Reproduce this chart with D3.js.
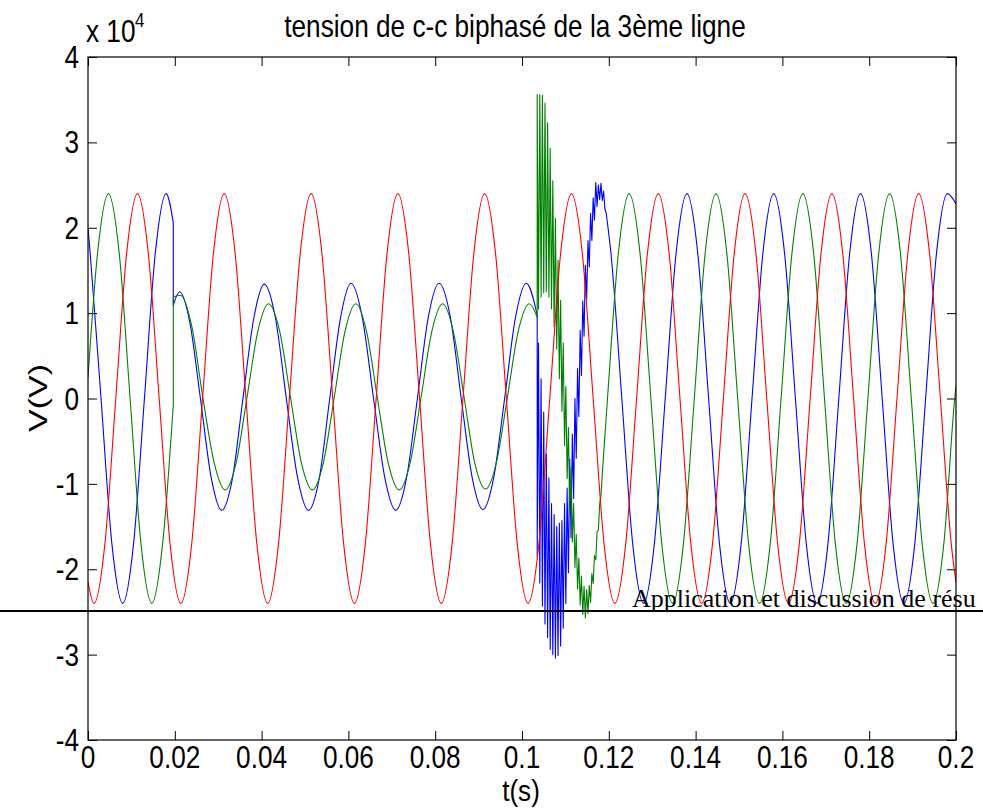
<!DOCTYPE html>
<html>
<head>
<meta charset="utf-8">
<script src="https://cdn.jsdelivr.net/npm/d3@7"></script>
<style>
  html, body { margin: 0; padding: 0; background: #fff; }
  svg { display: block; }
</style>
</head>
<body>
<svg id="chart" width="983" height="809"></svg>
<script>
// ---------------- DATA ----------------
const titleText = "tension de c-c biphasé de la 3ème ligne";
const xLabelText = "t(s)";
const yLabelText = "V(V)";
const overlayText = "Application et discussion de résu";

const xTicks = [0, 0.02, 0.04, 0.06, 0.08, 0.1, 0.12, 0.14, 0.16, 0.18, 0.2];
const xTickLabels = ["0", "0.02", "0.04", "0.06", "0.08", "0.1", "0.12", "0.14", "0.16", "0.18", "0.2"];
const yTicks = [-40000, -30000, -20000, -10000, 0, 10000, 20000, 30000, 40000];
const yTickLabels = ["-4", "-3", "-2", "-1", "0", "1", "2", "3", "4"];

// red phase (unaffected by the fault): times (s) and voltages (V)
const redT = [0,
  0.0014, 0.0039, 0.0064, 0.0089, 0.0114, 0.0139, 0.0164, 0.0189,
  0.0214, 0.0239, 0.0264, 0.0289, 0.0314, 0.0339, 0.0364, 0.0389,
  0.0414, 0.0439, 0.0464, 0.0489, 0.0514, 0.0539, 0.0564, 0.0589,
  0.0614, 0.0639, 0.0664, 0.0689, 0.0714, 0.0739, 0.0764, 0.0789,
  0.0814, 0.0839, 0.0864, 0.0889, 0.0914, 0.0939, 0.0964, 0.0989,
  0.1014, 0.1039, 0.1064, 0.1089, 0.1114, 0.1139, 0.1164, 0.1189,
  0.1214, 0.1239, 0.1264, 0.1289, 0.1314, 0.1339, 0.1364, 0.1389,
  0.1414, 0.1439, 0.1464, 0.1489, 0.1514, 0.1539, 0.1564, 0.1589,
  0.1614, 0.1639, 0.1664, 0.1689, 0.1714, 0.1739, 0.1764, 0.1789,
  0.1814, 0.1839, 0.1864, 0.1889, 0.1914, 0.1939, 0.1964, 0.1989,
  0.2];
const redV = [-21500,
  -24000, -17000, 0, 17000, 24000, 17000, 0, -17000,
  -24000, -17000, 0, 17000, 24000, 17000, 0, -17000,
  -24000, -17000, 0, 17000, 24000, 17000, 0, -17000,
  -24000, -17000, 0, 17000, 24000, 17000, 0, -17000,
  -24000, -17000, 0, 17000, 24000, 17000, 0, -17000,
  -24000, -17000, 0, 17000, 24000, 17000, 0, -17000,
  -24000, -17000, 0, 17000, 24000, 17000, 0, -17000,
  -24000, -17000, 0, 17000, 24000, 17000, 0, -17000,
  -24000, -17000, 0, 17000, 24000, 17000, 0, -17000,
  -24000, -17000, 0, 17000, 24000, 17000, 0, -17000,
  -21500];

// blue phase  [t (s), V]
const bluePre = [[0, 20000], [0.0005, 17000], [0.0030, 0], [0.0055, -17000], [0.0080, -24000], [0.0105, -17000],
  [0.0130, 0], [0.0155, 17000], [0.0180, 24000], [0.01965, 20600]];
const blueFault = [[0.01965, 10900], [0.0211, 12500], [0.0235, 8800], [0.0259, 0], [0.0284, -9300], [0.0308, -13100],
  [0.0333, -9300], [0.0357, 0], [0.0382, 9400], [0.0406, 13400], [0.0432, 9400], [0.0457, 0], [0.0483, -9300],
  [0.0508, -13100], [0.0533, -9300], [0.0557, 0], [0.0582, 9500], [0.0606, 13500], [0.0632, 9500], [0.0658, 0],
  [0.0684, -9300], [0.0709, -13100], [0.0734, -9300], [0.0759, 0], [0.0784, 9500], [0.0809, 13500], [0.0835, 9500],
  [0.0860, 0], [0.0885, -9200], [0.0910, -13000], [0.0935, -9200], [0.0960, 0], [0.0985, 9500], [0.1010, 13500],
  [0.1035, 9800]];
const blueTransient = [[0.1035, -18500], [0.1038, 6500], [0.1041, -21600], [0.1044, 2300], [0.1047, -24300],
  [0.1050, -1600], [0.1053, -26400], [0.1056, -6500], [0.1059, -28000], [0.1062, -9300], [0.1065, -29400],
  [0.1068, -12300], [0.1071, -30000], [0.1074, -13600], [0.1077, -30400], [0.1080, -15000], [0.1083, -30100],
  [0.1086, -14600], [0.1089, -29000], [0.1092, -14300], [0.1095, -26900], [0.1098, -12300], [0.1101, -24000],
  [0.1104, -10500], [0.1107, -20400], [0.1110, -7100], [0.1113, -16300], [0.1116, -4200], [0.1119, -11700],
  [0.1122, 0], [0.1125, -7000], [0.1128, 3500], [0.1131, -2100], [0.1134, 8000], [0.1137, 2700],
  [0.1140, 11400], [0.1143, 7300], [0.1146, 15600], [0.1149, 11600], [0.1152, 18500], [0.1155, 15400],
  [0.1158, 21700], [0.1161, 18500], [0.1164, 23500], [0.1167, 20900], [0.1170, 25300], [0.1173, 22500],
  [0.1176, 25000], [0.1179, 23300], [0.1182, 25200], [0.1185, 23200], [0.1188, 24300], [0.1191, 22200],
  [0.1194, 21700]];
const bluePost = [[0.1194, 21700], [0.1205, 17000], [0.1230, 0], [0.1255, -17000], [0.1280, -24000], [0.1305, -17000],
  [0.1330, 0], [0.1355, 17000], [0.1380, 24000], [0.1405, 17000], [0.1430, 0], [0.1455, -17000], [0.1480, -24000],
  [0.1505, -17000], [0.1530, 0], [0.1555, 17000], [0.1580, 24000], [0.1605, 17000], [0.1630, 0], [0.1655, -17000],
  [0.1680, -24000], [0.1705, -17000], [0.1730, 0], [0.1755, 17000], [0.1780, 24000], [0.1805, 17000], [0.1830, 0],
  [0.1855, -17000], [0.1880, -24000], [0.1905, -17000], [0.1930, 0], [0.1955, 17000], [0.1980, 24000],
  [0.2000, 22800]];

// green phase  [t (s), V]
const greenPre = [[0, 2500], [0.0022, 17000], [0.0047, 24000], [0.0072, 17000], [0.0097, 0], [0.0122, -17000],
  [0.0147, -24000], [0.0172, -17000], [0.01965, -800]];
const greenFault = [[0.01965, 11900], [0.0213, 12100], [0.0239, 8500], [0.0265, 0], [0.0291, -7600], [0.0316, -10700],
  [0.0341, -7600], [0.0366, 0], [0.0391, 7800], [0.0416, 11100], [0.0442, 7800], [0.0467, 0], [0.0492, -7600],
  [0.0517, -10700], [0.0542, -7600], [0.0567, 0], [0.0592, 7800], [0.0617, 11100], [0.0642, 7800], [0.0667, 0],
  [0.0692, -7600], [0.0717, -10700], [0.0742, -7600], [0.0767, 0], [0.0792, 7800], [0.0817, 11100], [0.0842, 7800],
  [0.0867, 0], [0.0891, -7500], [0.0916, -10600], [0.0941, -7500], [0.0966, 0], [0.0991, 7800], [0.1017, 11100],
  [0.1035, 9500]];
const greenTransient = [[0.1035, 35600], [0.1038, 10500], [0.1041, 35600], [0.1044, 11900], [0.1047, 35500],
  [0.1050, 12400], [0.1053, 34600], [0.1056, 12500], [0.1059, 32300], [0.1062, 11900], [0.1065, 29300],
  [0.1068, 10500], [0.1071, 25500], [0.1074, 8400], [0.1077, 21100], [0.1080, 5800], [0.1083, 16200],
  [0.1086, 2300], [0.1089, 11500], [0.1092, -1500], [0.1095, 6500], [0.1098, -5500], [0.1101, 1400],
  [0.1104, -9400], [0.1107, -3400], [0.1110, -13200], [0.1113, -8100], [0.1116, -16800], [0.1119, -12300],
  [0.1122, -19800], [0.1125, -15900], [0.1128, -22300], [0.1131, -18700], [0.1134, -24200], [0.1137, -20800],
  [0.1140, -25300], [0.1143, -22000], [0.1146, -25700], [0.1149, -22400], [0.1152, -25200], [0.1155, -21900],
  [0.1158, -23900], [0.1161, -20500], [0.1164, -21700], [0.1167, -18400], [0.1170, -18900], [0.1173, -15600],
  [0.1176, -15400], [0.1179, -12300], [0.1182, -11400], [0.1185, -8800]];
const greenPost = [[0.1185, -8800], [0.1197, 0], [0.1222, 17000], [0.1247, 24000], [0.1272, 17000], [0.1297, 0],
  [0.1322, -17000], [0.1347, -24000], [0.1372, -17000], [0.1397, 0], [0.1422, 17000], [0.1447, 24000],
  [0.1472, 17000], [0.1497, 0], [0.1522, -17000], [0.1547, -24000], [0.1572, -17000], [0.1597, 0], [0.1622, 17000],
  [0.1647, 24000], [0.1672, 17000], [0.1697, 0], [0.1722, -17000], [0.1747, -24000], [0.1772, -17000], [0.1797, 0],
  [0.1822, 17000], [0.1847, 24000], [0.1872, 17000], [0.1897, 0], [0.1922, -17000], [0.1947, -24000],
  [0.1972, -17000], [0.1997, 0], [0.2, 1500]];

// ---------------- DRAWING ----------------
const svg = d3.select("#chart");
const L = 88, R = 956, T = 57, B = 740;
const x = d3.scaleLinear().domain([0, 0.2]).range([L, R]);
const y = d3.scaleLinear().domain([-40000, 40000]).range([B, T]);
const FONT = "'Liberation Sans', Arial, Helvetica, sans-serif";
const FS = 31;      // axis text size
const SX = 0.845;   // horizontal squeeze of the figure text

svg.append("rect").attr("width", 983).attr("height", 809).attr("fill", "#fff");

svg.append("defs").append("clipPath").attr("id", "plotclip")
  .append("rect").attr("x", L).attr("y", T).attr("width", R - L).attr("height", B - T);

// ticks (inward, on all four sides)
const tickLen = 9;
const ax = [
  d3.axisBottom(x).tickValues(xTicks).tickFormat("").tickSizeInner(-tickLen).tickSizeOuter(0),
  d3.axisTop(x).tickValues(xTicks).tickFormat("").tickSizeInner(-tickLen).tickSizeOuter(0),
  d3.axisLeft(y).tickValues(yTicks).tickFormat("").tickSizeInner(-tickLen).tickSizeOuter(0),
  d3.axisRight(y).tickValues(yTicks).tickFormat("").tickSizeInner(-tickLen).tickSizeOuter(0)
];
const axPos = [[0, B], [0, T], [L, 0], [R, 0]];
ax.forEach((a, i) => {
  const g = svg.append("g").attr("transform", `translate(${axPos[i][0]},${axPos[i][1]})`).call(a);
  g.select(".domain").remove();
  g.selectAll(".tick line").attr("stroke", "#000").attr("stroke-width", 1);
});

// series
const lineSmooth = d3.line().x(d => x(d[0])).y(d => y(d[1])).curve(d3.curveMonotoneX);
const lineLin = d3.line().x(d => x(d[0])).y(d => y(d[1])).curve(d3.curveLinear);
function seriesPath(parts) {
  return parts.map((p, i) => {
    const s = (p[1] === "smooth" ? lineSmooth : lineLin)(p[0]);
    return i === 0 ? s : "L" + s.slice(1);
  }).join("");
}
const redPts = redT.map((t, i) => [t, redV[i]]);
const plot = svg.append("g").attr("clip-path", "url(#plotclip)");
const series = [
  { color: "#0000ff", parts: [[bluePre, "smooth"], [blueFault, "smooth"], [blueTransient, "lin"], [bluePost, "smooth"]] },
  { color: "#008000", parts: [[greenPre, "smooth"], [greenFault, "smooth"], [greenTransient, "lin"], [greenPost, "smooth"]] },
  { color: "#ff0000", parts: [[redPts, "smooth"]] }
];
series.forEach(s => {
  plot.append("path").attr("d", seriesPath(s.parts))
    .attr("fill", "none").attr("stroke", s.color).attr("stroke-width", 1.1)
    .attr("stroke-linejoin", "round");
});

// axes box
svg.append("rect").attr("x", L).attr("y", T).attr("width", R - L).attr("height", B - T)
  .attr("fill", "none").attr("stroke", "#000").attr("stroke-width", 1.2);

// text helper (squeezed horizontally like the original figure)
const txt = (px, py, s, anchor, size) => svg.append("text")
  .attr("transform", `translate(${px},${py}) scale(${SX},1)`)
  .attr("text-anchor", anchor).attr("font-family", FONT).attr("font-size", size || FS)
  .attr("fill", "#000").text(s);

xTicks.forEach((t, i) => txt(x(t), 768, xTickLabels[i], "middle"));
yTicks.forEach((v, i) => txt(79, y(v) + 11, yTickLabels[i], "end"));

// exponent
txt(86, 42, "x 10", "start");
txt(135, 27, "4", "start", 20);

// title and axis labels
txt(515, 37, titleText, "middle");
svg.append("text")
  .attr("transform", `translate(521,801) scale(0.9,1)`)
  .attr("text-anchor", "middle").attr("font-family", FONT).attr("font-size", 29)
  .attr("fill", "#000").text(xLabelText);
svg.append("text")
  .attr("transform", `translate(47,398) scale(0.77,1) rotate(-90)`)
  .attr("text-anchor", "middle").attr("font-family", FONT).attr("font-size", 34)
  .attr("fill", "#000").text(yLabelText);

// overlay coming from the document page
svg.append("line").attr("x1", 0).attr("x2", 983).attr("y1", 611).attr("y2", 611)
  .attr("stroke", "#000").attr("stroke-width", 2);
svg.append("text").attr("x", 632).attr("y", 607)
  .attr("font-family", "'Liberation Serif', 'Times New Roman', serif").attr("font-size", 26)
  .attr("fill", "#000").text(overlayText);
</script>
</body>
</html>
